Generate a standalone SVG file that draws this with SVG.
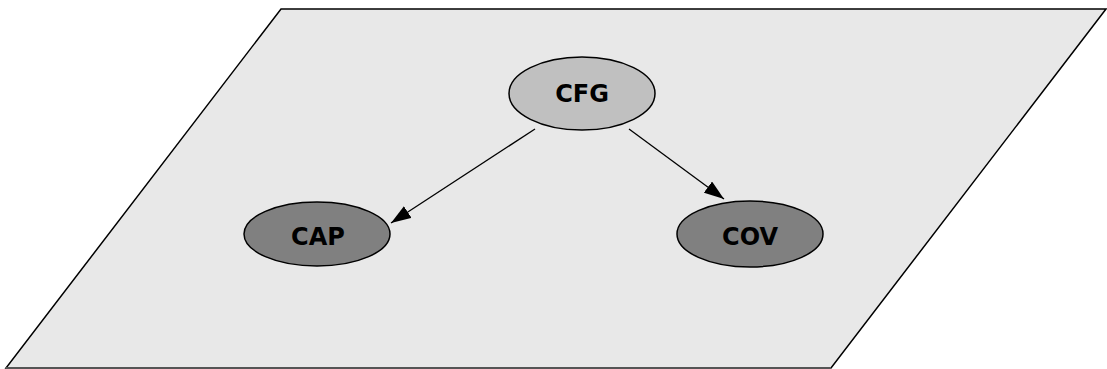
<svg xmlns="http://www.w3.org/2000/svg" width="1107" height="369" viewBox="0 0 1107 369">
  <style>
    .plane { fill: #e8e8e8; stroke: #000; stroke-width: 1.5; }
    .node ellipse { stroke: #000; stroke-width: 1.5; }
    .root ellipse { fill: #c0c0c0; }
    .leaf ellipse { fill: #808080; }
    .node text { font-family: "DejaVu Sans", Verdana, sans-serif; font-weight: bold; font-size: 24px; text-anchor: middle; fill: #000; }
    .edge { stroke: #000; stroke-width: 1.3; fill: none; marker-end: url(#arrow); }
  </style>
  <defs>
    <marker id="arrow" viewBox="0 0 10 10" refX="10" refY="5" markerWidth="20" markerHeight="14" markerUnits="userSpaceOnUse" orient="auto" preserveAspectRatio="none">
      <path d="M0,0 L10,5 L0,10 z" fill="#000"/>
    </marker>
  </defs>

  <!-- background plane -->
  <polygon class="plane" points="281,9 1106,9 831,368 6,368"/>
  <line x1="6" y1="368" x2="831" y2="368" stroke="#555" stroke-width="2"/>

  <g id="connectors">
    <line class="edge" x1="535" y1="129" x2="391" y2="223"/>
    <line class="edge" x1="629" y1="129" x2="724" y2="199"/>
  </g>

  <g id="CFG" class="node root">
    <ellipse cx="582" cy="93.5" rx="73" ry="36.5"/>
    <text x="582" y="102">CFG</text>
  </g>
  <g id="CAP" class="node leaf">
    <ellipse cx="317" cy="234" rx="73" ry="32"/>
    <text x="318" y="245">CAP</text>
  </g>
  <g id="COV" class="node leaf">
    <ellipse cx="750" cy="234" rx="73" ry="33"/>
    <text x="750" y="245">COV</text>
  </g>
</svg>
